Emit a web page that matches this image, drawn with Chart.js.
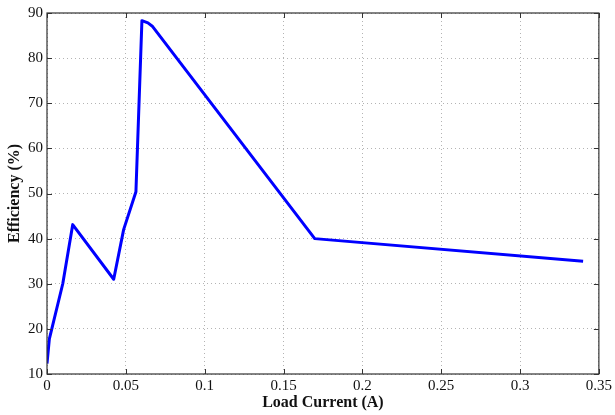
<!DOCTYPE html>
<html>
<head>
<meta charset="utf-8">
<script src="https://cdn.jsdelivr.net/npm/chart.js@4.4.0/dist/chart.umd.min.js"></script>
<style>
  html, body { margin: 0; padding: 0; background: #fff; }
  #wrap { width: 615px; height: 415px; }
</style>
</head>
<body>
<div id="wrap"><canvas id="chart"></canvas></div>
<script>
const loadCurrent = [0, 0.0015, 0.0100, 0.0163, 0.0423, 0.0486, 0.0564, 0.0602, 0.0640, 0.0670, 0.1698, 0.3400];
const efficiency = [12.3, 17.8, 30.0, 43.1, 31.0, 42.0, 50.4, 88.3, 87.8, 87.0, 40.0, 35.0];
const xTitle = 'Load Current (A)';
const yTitle = 'Efficiency (%)';

const FONT = '"Liberation Serif", "Times New Roman", serif';

// box around the plot with inward tick marks (matlab style)
const framePlugin = {
  id: 'frame',
  afterDraw(chart) {
    const { ctx, chartArea: a, scales } = chart;
    ctx.save();
    ctx.strokeStyle = '#333';
    ctx.lineWidth = 1.2;
    ctx.strokeRect(a.left, a.top, a.right - a.left, a.bottom - a.top);
    ctx.lineWidth = 1;
    ctx.beginPath();
    scales.x.ticks.forEach((t) => {
      const x = Math.round(scales.x.getPixelForValue(t.value)) + 0.5;
      ctx.moveTo(x, a.bottom); ctx.lineTo(x, a.bottom - 5);
      ctx.moveTo(x, a.top); ctx.lineTo(x, a.top + 5);
    });
    scales.y.ticks.forEach((t) => {
      const y = Math.round(scales.y.getPixelForValue(t.value)) + 0.5;
      ctx.moveTo(a.left, y); ctx.lineTo(a.left + 5, y);
      ctx.moveTo(a.right, y); ctx.lineTo(a.right - 5, y);
    });
    ctx.stroke();
    ctx.restore();
  }
};

const gridStyle = {
  color: '#b4b4b4',
  lineWidth: 1,
  drawTicks: false
};

new Chart(document.getElementById('chart'), {
  type: 'line',
  data: {
    datasets: [{
      data: loadCurrent.map((x, i) => ({ x, y: efficiency[i] })),
      borderColor: '#0000ff',
      backgroundColor: '#0000ff',
      borderWidth: 3,
      pointRadius: 0,
      tension: 0,
      borderJoinStyle: 'round'
    }]
  },
  options: {
    responsive: true,
    maintainAspectRatio: false,
    animation: false,
    layout: { padding: { left: 0, top: 10, right: 14, bottom: 0 } },
    plugins: { legend: { display: false }, tooltip: { enabled: false } },
    scales: {
      x: {
        type: 'linear',
        min: 0,
        max: 0.35,
        border: { display: false, dash: [1, 3] },
        grid: gridStyle,
        title: {
          display: true,
          text: xTitle,
          color: '#111',
          font: { family: FONT, size: 16, weight: 'bold' },
          padding: { top: 0, bottom: 3 }
        },
        ticks: {
          stepSize: 0.05,
          padding: 3,
          color: '#111',
          font: { family: FONT, size: 15 },
          maxRotation: 0,
          callback: (v) => String(Number(v.toFixed(2)))
        },
        afterFit: (s) => { s.height = 41; }
      },
      y: {
        min: 10,
        max: 90,
        border: { display: false, dash: [1, 3] },
        grid: gridStyle,
        title: {
          display: true,
          text: yTitle,
          color: '#111',
          font: { family: FONT, size: 16, weight: 'bold' },
          padding: { top: 5, bottom: 0 }
        },
        ticks: {
          stepSize: 10,
          padding: 4,
          color: '#111',
          font: { family: FONT, size: 15 }
        },
        afterFit: (s) => { s.width = 47; }
      }
    }
  },
  plugins: [framePlugin]
});
</script>
</body>
</html>
